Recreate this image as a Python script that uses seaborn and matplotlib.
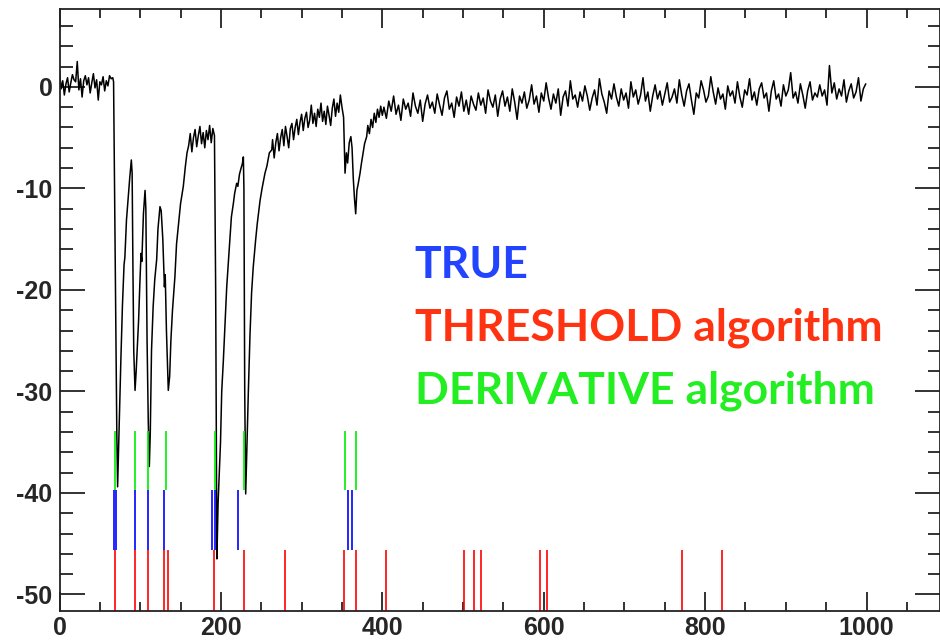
import numpy as np
import pandas as pd
import matplotlib
matplotlib.use('Agg')
import matplotlib.pyplot as plt
from matplotlib.ticker import MultipleLocator
import seaborn as sns

# signal before the first pulse, one sample every 2 from x=0
flat_y = [1.5, -0.2, 0.6, -0.8, 0.3, 0.9, -0.5, 0.4, 1.2, 0.7,
          0.5, 2.5, -0.3, 0.8, -1.0, 0.6, 1.1, 0.2, 0.9, -0.6,
          0.4, 1.3, -0.1, 0.7, -1.3, 0.5, 0.2, 1.0, -0.4, 0.6,
          0.1, 1.1, 0.8, 0.9]

# pulse train, read point by point
pulse_x = [67, 68, 69.6, 71, 72, 74, 76, 78, 80, 81, 83, 85, 87, 89, 90, 91, 92, 93.6,
           95, 96.5, 98, 99.5, 101, 102, 104, 106, 107, 108.5, 110, 111.3, 112.5, 114,
           116, 118, 120.4, 122, 124.5, 126, 128, 130, 131, 132.5, 134.8, 136.5, 138,
           140, 143, 145, 148, 150, 153.4, 156, 158,
           160, 162, 164, 166, 168, 170, 172, 174, 176, 178, 180, 182, 184, 186, 188,
           190, 192,
           193.5, 195, 196.5, 198, 199.5, 201, 203, 205, 207.2, 209, 211.3, 213, 215.4,
           217, 219.5, 221, 223, 225, 226.5, 227.8, 228.5, 229.5, 230.7, 232, 234, 236,
           238, 240, 243, 245, 248.5, 251, 254.6, 257, 260, 263]
pulse_y = [0.5, -8, -22.7, -34, -39.4, -33, -27, -21.5, -17.5, -16.8, -13.1, -11, -9,
           -7.2, -8.5, -18, -26, -29.9,
           -28, -25.5, -23, -19.5, -16.4, -17.2, -12.5, -10.2, -12, -25, -33, -37.4, -34,
           -26, -21.7, -19, -17, -14, -11.8, -12.2, -15, -19.7, -18.5, -24, -29.9, -28.5,
           -25, -22, -18.7, -15.5, -13.1, -11.5, -9.8, -7.8, -6.5,
           -5.8, -4.6, -6.4, -5.0, -4.2, -5.9, -4.8, -3.9, -5.6, -4.5, -6.0, -4.3, -5.2,
           -3.8, -5.5, -4.1, -4.8,
           -20, -46.5, -41, -38, -35, -30, -27, -23.6, -19.7, -17.5, -14.8, -12.8, -11.5,
           -10.5, -9.5, -9.8, -8.6, -8.0, -7.6, -6.9, -10, -30, -40.1, -36, -30, -24.5,
           -20.3, -17.8, -15.1, -13.5, -11.2, -10, -8.5, -7.8, -6.5, -6.2]

# slow recovery, every 2 from x=264
recov_y = [-5.2, -7.0, -5.5, -4.6, -6.3, -5.0, -4.2, -5.8, -3.9, -4.9,
           -6.0, -4.1, -3.6, -5.2, -4.0, -3.2, -4.7, -3.5, -2.7, -4.3,
           -3.1, -2.5, -4.0, -3.3, -1.8, -3.6, -2.6, -3.9, -2.2, -3.0,
           -1.6, -3.4, -2.4, -3.7, -1.9, -2.8, -3.8, -2.1, -1.2, -2.9,
           -1.6, -2.5, -0.8, -2.0]

# small dip near 360
dip_x = [352, 353.8, 355.5, 357, 359, 361, 362.5, 364, 365.5, 367, 368.5, 370, 372.4,
         374, 376, 378, 380.6, 382, 384, 386, 388, 390, 392, 394, 396, 398, 400]
dip_y = [-3, -8.5, -6.5, -7.5, -5.5, -4.9, -6, -9, -11, -12.5, -10.2, -9.6, -8.5,
         -7.6, -6.6, -5.6, -4.9, -3.8, -4.6, -3.2, -4.0, -2.6, -3.5, -2.2, -3.0, -1.9, -2.8]

# baseline tail, every 3 from x=402
tail_y = [-2.0, -3.1, -1.4, -2.4, -0.9, -2.7, -1.8, -3.3, -1.2, -2.2, -1.6, -2.9, -0.6, -1.9, -2.6, -1.3, -3.4, -1.7, -0.8, -2.1,
          -1.5, -2.6, -0.7, -1.8, -2.8, -1.1, -0.4, -2.2, -1.6, -3.0, -1.0, -1.9, -0.5, -2.4, -1.3, -2.7, -0.9, -1.7, -2.3, -0.6,
          -1.8, -1.1, -2.6, -0.3, -1.4, -2.0, -0.8, -2.9, -1.2, -0.4, -1.9, -1.0, -2.4, -0.2, -1.5, -3.2, -0.9, -1.6, -0.5, -2.1,
          -1.3, 0.2, -1.7, -0.9, -2.5, -0.6, -1.4, 0.4, -1.1, -2.2, -0.7, -1.6, -0.2, -2.8, -1.0, -0.4, -1.9, 0.6, -1.2, -0.8,
          -2.0, -0.5, -1.4, 0.1, -0.9, -2.3, -1.1, -0.3, -1.8, 0.8, -0.7, -1.5, -2.6, -0.4, -1.2, 0.3, -1.0, -1.9, -0.2, -1.3,
          -0.6, -2.1, 0.5, -1.0, -0.3, -1.7, -0.8, 0.9, -1.4, -0.5, -2.4, -0.9, 0.2, -1.2, -0.4, -1.8, -0.7, 0.4, -1.5, -1.0,
          -0.2, -1.6, 0.7, -0.8, -1.9, -0.4, 0.3, -1.3, -2.7, -0.6, -1.1, 0.6, -0.3, -1.5, -0.9, 1.0, -0.5, -1.7, -0.1, -1.2,
          -0.7, -2.2, 0.1, -0.9, -0.4, -1.6, 0.5, -1.0, -2.0, -0.3, -0.8, 0.8, -1.3, -0.5, -1.8, -0.2, 0.4, -1.1, -0.6, -2.4,
          -0.4, 0.6, -1.2, -0.7, -1.9, 0.2, -0.9, -0.3, 1.4, -1.1, -0.5, -1.6, 0.3, -0.8, -2.1, -0.4, 0.5, -1.3, -0.6, -1.0,
          0.2, -0.9, -0.3, -1.8, 2.1, -0.6, 0.4, -1.2, -0.2, -0.9, 0.7, -1.5, -0.4, 0.3, -1.1, -0.5, 0.9, -1.4, -0.2, 0.3]

# found pulse positions
true_pos = [67, 70, 93, 110, 130, 189, 193, 221, 357, 363]
thresh_pos = [69, 93, 110, 130, 135, 192, 229, 280, 352, 367, 405, 501, 514, 522,
              595, 604, 771, 821]
deriv_pos = [69, 93, 110, 132, 193, 229, 354, 367]

labels = ['TRUE', 'THRESHOLD algorithm', 'DERIVATIVE algorithm']
label_colors = ['#2244ff', '#ff3311', '#22ee22']

# build the trace
xs = list(2 * np.arange(len(flat_y))) + pulse_x + \
     list(264 + 2 * np.arange(len(recov_y))) + dip_x + \
     list(402 + 3 * np.arange(len(tail_y)))
ys = flat_y + pulse_y + recov_y + dip_y + tail_y
df = pd.DataFrame({'x': xs, 'y': ys})

sns.set_style('ticks')
plt.rcParams['axes.unicode_minus'] = False
fig = plt.figure(figsize=(9.4, 6.4), dpi=100)
ax = fig.add_axes([0.0633, 0.0458, 0.9367, 0.9406])

sns.lineplot(data=df, x='x', y='y', sort=False, estimator=None,
             color='black', lw=1.1, ax=ax)

# marker bands: threshold at the bottom, then true, then derivative
ax.vlines(thresh_pos, -52, -45.6, color='#ff0000', lw=1.2)
ax.vlines(true_pos, -45.6, -39.7, color='#0000ff', lw=1.2)
ax.vlines(deriv_pos, -39.7, -33.9, color='#00ee00', lw=1.2)

for i, (txt, c) in enumerate(zip(labels, label_colors)):
    ax.text(440, -18.8 - 6.2 * i, txt, color=c, fontsize=32, fontweight='bold',
            family='Lato', va='baseline', ha='left')

ax.set_xlim(0, 1091)
ax.set_ylim(-51.6, 7.7)
ax.xaxis.set_major_locator(MultipleLocator(200))
ax.xaxis.set_minor_locator(MultipleLocator(50))
ax.yaxis.set_major_locator(MultipleLocator(10))
ax.yaxis.set_minor_locator(MultipleLocator(2))
ax.tick_params(which='both', direction='in', top=True, right=True,
               width=1.3, color='#222222')
ax.tick_params(axis='y', which='major', length=18, pad=5)
ax.tick_params(axis='y', which='minor', length=9)
ax.tick_params(axis='x', which='major', length=13.5, pad=4)
ax.tick_params(axis='x', which='minor', length=6.5)
for lab in ax.get_xticklabels() + ax.get_yticklabels():
    lab.set_family('Liberation Sans')
    lab.set_fontweight('bold')
    lab.set_fontsize(18)
for s in ax.spines.values():
    s.set_linewidth(1.3)
    s.set_color('#222222')
ax.set_xlabel('')
ax.set_ylabel('')

fig.savefig('out.png', dpi=100)
